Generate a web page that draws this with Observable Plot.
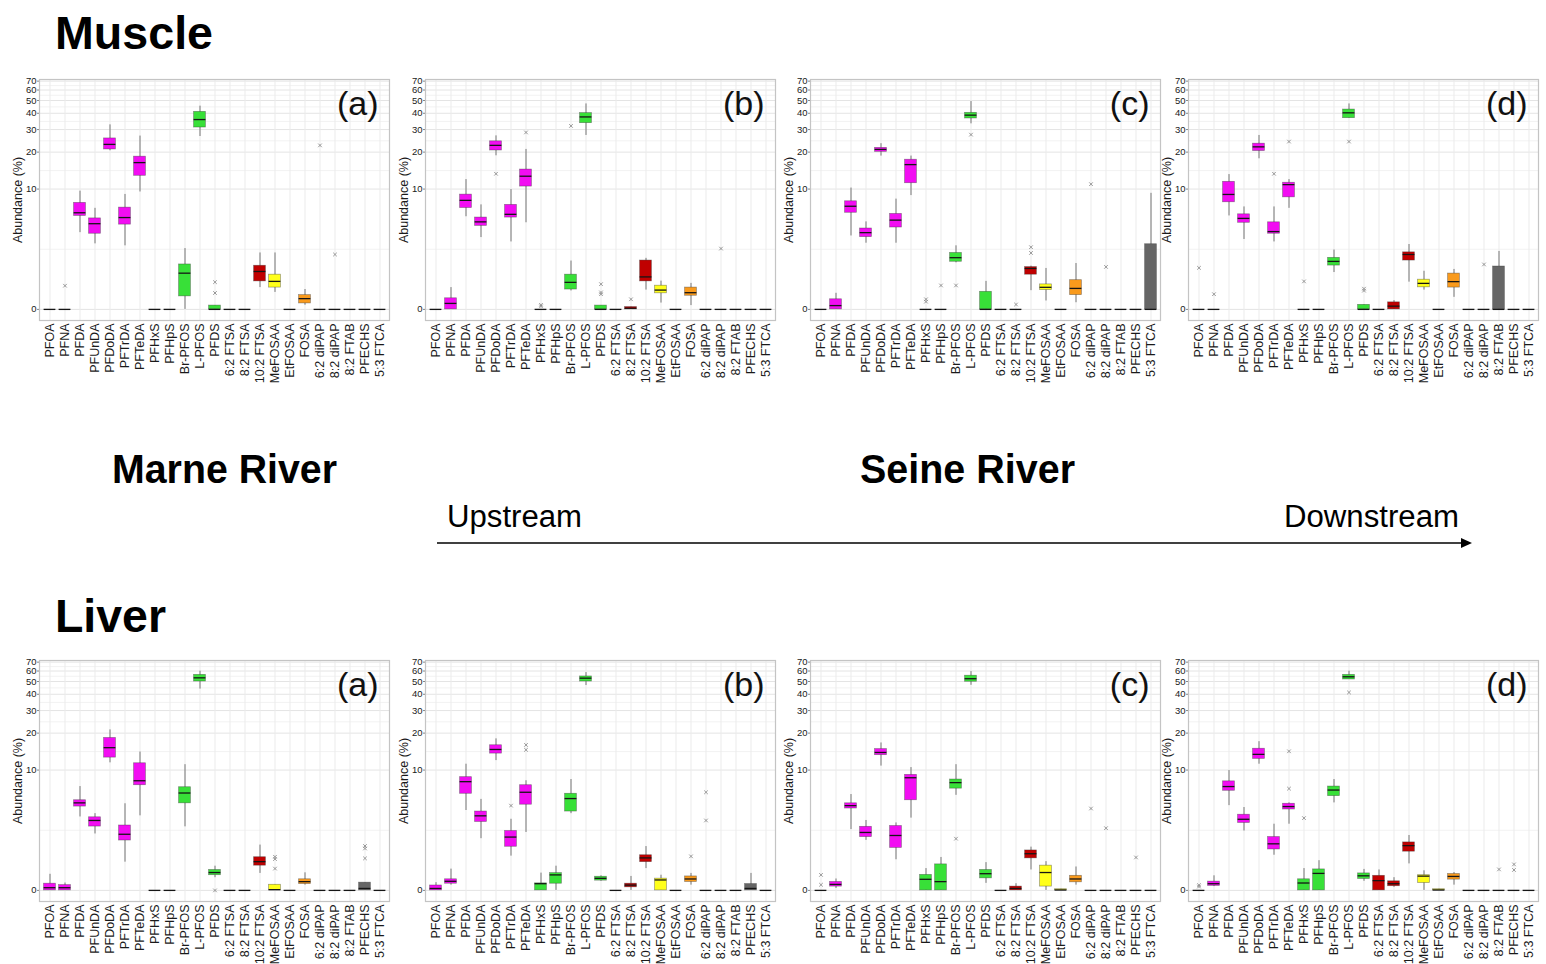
<!DOCTYPE html>
<html>
<head>
<meta charset="utf-8">
<script src="https://cdn.jsdelivr.net/npm/d3@7"></script>
<script src="https://cdn.jsdelivr.net/npm/@observablehq/plot@0.6"></script>
<style>
  html, body { margin: 0; padding: 0; background: #fff; }
  body { width: 1546px; height: 964px; overflow: hidden; position: relative; font-family: "Liberation Sans", Arial, sans-serif; }
  .panel { position: absolute; }
  #overlay { position: absolute; left: 0; top: 0; }
</style>
</head>
<body>
<svg id="overlay" width="1546" height="964"></svg>
<div id="panels"></div>
<script>
// ---------- categories & styling data ----------
const compounds = ["PFOA","PFNA","PFDA","PFUnDA","PFDoDA","PFTrDA","PFTeDA","PFHxS","PFHpS","Br-PFOS","L-PFOS","PFDS","6:2 FTSA","8:2 FTSA","10:2 FTSA","MeFOSAA","EtFOSAA","FOSA","6:2 diPAP","8:2 diPAP","8:2 FTAB","PFECHS","5:3 FTCA"];
const compoundColors = ["#F20DF2","#F20DF2","#F20DF2","#F20DF2","#F20DF2","#F20DF2","#F20DF2","#38E038","#38E038","#38E038","#38E038","#38E038","#C00000","#C00000","#C00000","#FFFF1A","#FFFF1A","#F99A1C","#666666","#666666","#666666","#666666","#666666"];
const yTicks = [0, 10, 20, 30, 40, 50, 60, 70];
const panelTags = ["(a)", "(b)", "(c)", "(d)"];

// ---------- box statistics per compound: [whisker low, Q1, median, Q3, whisker high] ----------
const muscleA = [[0,0,0,0,0],[0,0,0,0,0],[4.0,5.8,6.2,7.6,9.6],[3.05,3.9,4.9,5.5,6.8],[20.5,21.0,23.0,25.6,32.6],[2.9,4.8,5.6,6.9,9.0],[9.45,12.9,16.5,18.4,26.7],[0,0,0,0,0],[0,0,0,0,0],[0,0.37,1.27,1.71,2.7],[26.5,31.1,35.8,41.0,45.3],[0,0,0,0.1,0.1],[0,0,0,0,0],[0,0,0,0,0],[0.67,0.91,1.35,1.64,2.4],[0.5,0.67,0.91,1.2,2.4],[0,0,0,0,0],[0.11,0.16,0.3,0.41,0.6],[0,0,0,0,0],[0,0,0,0,0],[0,0,0,0,0],[0,0,0,0,0],[0,0,0,0,0]];
const muscleB = [[0,0,0,0,0],[0,0,0.16,0.31,0.67],[5.7,6.85,8.0,8.97,12.0],[3.56,4.67,5.1,5.6,7.3],[18.7,20.6,22.6,24.3,26.8],[3.2,5.6,6.0,7.3,9.9],[5.0,10.5,12.8,14.5,21.0],[0,0,0,0,0],[0,0,0,0,0],[0.55,0.6,0.87,1.2,1.9],[27.0,33.6,37.5,40.1,47.1],[0,0,0,0.1,0.1],[0,0,0,0,0],[0,0,0.03,0.06,0.06],[0.58,0.91,1.1,1.93,2.06],[0.17,0.47,0.58,0.74,0.92],[0,0,0,0,0],[0.1,0.39,0.49,0.67,0.83],[0,0,0,0,0],[0,0,0,0,0],[0,0,0,0,0],[0,0,0,0,0],[0,0,0,0,0]];
const muscleC = [[0,0,0,0,0],[0,0,0.1,0.28,0.47],[3.7,6.2,7.1,7.85,10.2],[3.1,3.6,4.0,4.4,5.1],[18.6,20.1,21.0,21.6,23.3],[3.1,4.5,5.3,6.05,8.2],[8.8,11.2,15.9,17.4,18.6],[0,0,0,0,0],[0,0,0,0,0],[1.8,1.86,2.1,2.4,2.9],[33.2,36.5,38.7,40.3,49.1],[0,0,0,0.52,0.91],[0,0,0,0,0],[0,0,0,0,0],[0.56,1.2,1.5,1.57,1.62],[0.23,0.58,0.68,0.79,1.5],[0,0,0,0,0],[0.18,0.41,0.64,0.96,1.76],[0,0,0,0,0],[0,0,0,0,0],[0,0,0,0,0],[0,0,0,0,0],[0,0,0,3.02,9.2]];
const muscleD = [[0,0,0,0,0],[0,0,0,0,0],[5.8,7.7,9.0,11.5,13.2],[3.4,5.0,5.5,6.0,7.0],[17.7,20.4,22.0,23.3,27.0],[3.2,3.9,4.1,5.05,7.0],[6.8,8.5,10.9,11.3,12.0],[0,0,0,0,0],[0,0,0,0,0],[1.3,1.65,1.88,2.09,2.6],[36.7,36.7,40.3,42.7,47.1],[0,0,0,0.12,0.12],[0,0,0,0,0],[0,0,0.085,0.19,0.24],[0.88,1.93,2.3,2.44,3.0],[0.58,0.68,0.83,0.98,1.36],[0,0,0,0,0],[0.34,0.67,0.9,1.25,1.45],[0,0,0,0,0],[0,0,0,0,0],[0,0,0,1.6,2.5],[0,0,0,0,0],[0,0,0,0,0]];
const liverA = [[0,0,0.07,0.18,0.47],[0,0,0.07,0.14,0.2],[3.7,4.7,5.1,5.4,7.2],[2.4,2.92,3.4,3.67,4.0],[11.5,12.7,15.3,18.3,21.2],[0.92,1.99,2.38,3.0,5.0],[3.8,7.4,8.1,11.4,14.1],[0,0,0,0,0],[0,0,0,0,0],[2.9,5.05,6.3,7.1,11.1],[43.8,50.0,53.3,56.1,59.8],[0.36,0.44,0.53,0.62,0.76],[0,0,0,0,0],[0,0,0,0,0],[0.5,0.78,0.94,1.13,1.73],[0,0,0.02,0.15,0.15],[0,0,0,0,0],[0.14,0.17,0.24,0.31,0.52],[0,0,0,0,0],[0,0,0,0,0],[0,0,0,0,0],[0,0,0.05,0.21,0.21],[0,0,0,0,0]];
const liverB = [[0,0,0.05,0.13,0.21],[0.14,0.18,0.25,0.31,0.65],[4.3,6.2,7.95,8.7,11.2],[2.1,3.28,3.8,4.2,5.5],[12.0,13.7,14.8,16.0,18.0],[1.18,1.64,2.2,2.6,3.5],[2.5,4.9,6.4,7.4,8.1],[0,0,0.18,0.19,0.51],[0,0.18,0.45,0.51,0.76],[4.0,4.2,5.6,6.2,8.3],[46.6,50.0,53.0,54.6,58.4],[0.25,0.27,0.34,0.39,0.42],[0,0,0,0,0],[0,0.08,0.14,0.18,0.4],[0.67,0.92,1.1,1.22,1.65],[0,0,0.29,0.33,0.44],[0,0,0,0,0],[0.14,0.23,0.32,0.4,0.5],[0,0,0,0,0],[0,0,0,0,0],[0,0,0,0,0],[0,0,0.05,0.17,0.5],[0,0,0,0,0]];
const liverC = [[0,0,0,0,0],[0.05,0.1,0.16,0.23,0.32],[2.7,4.5,4.8,5.05,6.1],[2.0,2.2,2.5,2.9,3.4],[10.8,13.3,14.0,14.9,16.7],[1.02,1.58,2.3,2.96,3.2],[3.6,5.4,8.6,9.1,10.5],[0,0,0.31,0.45,0.67],[0,0,0.24,0.83,1.12],[6.0,6.9,7.8,8.3,11.1],[46.8,49.8,52.5,55.3,59.4],[0.19,0.34,0.49,0.62,0.9],[0,0,0,0,0],[0,0,0.05,0.1,0.18],[0.62,1.08,1.29,1.45,1.62],[0,0.1,0.53,0.78,0.94],[0,0,0.01,0.03,0.03],[0.14,0.22,0.32,0.42,0.73],[0,0,0,0,0],[0,0,0,0,0],[0,0,0,0,0],[0,0,0,0,0],[0,0,0,0,0]];
const liverD = [[0,0,0,0,0],[0.1,0.12,0.18,0.24,0.42],[4.8,6.6,7.2,8.0,9.9],[2.6,3.2,3.5,3.9,4.6],[11.2,12.4,13.5,15.0,17.1],[1.22,1.5,1.8,2.2,3.1],[3.1,4.4,4.7,5.0,5.1],[0,0,0.2,0.31,0.67],[0,0,0.5,0.64,0.98],[5.1,5.9,6.7,7.2,8.3],[51.8,51.8,54.3,56.1,59.8],[0.25,0.32,0.42,0.5,0.64],[0,0,0.27,0.42,0.62],[0.08,0.11,0.18,0.25,0.36],[0.85,1.39,1.7,1.88,2.3],[0,0.2,0.41,0.44,0.59],[0,0,0.01,0.03,0.03],[0.14,0.3,0.4,0.48,0.53],[0,0,0,0,0],[0,0,0,0,0],[0,0,0,0,0],[0,0,0,0,0],[0,0,0,0,0]];

// ---------- outlying points: [compound, abundance %] ----------
const muscleAOut = [["PFNA",0.74],["PFDS",0.88],["PFDS",0.48],["6:2 diPAP",22.6],["8:2 diPAP",2.3]];
const muscleBOut = [["PFDoDA",13.4],["PFTeDA",28.5],["PFHxS",0.12],["PFHxS",0.08],["Br-PFOS",32],["PFDS",0.5],["PFDS",0.44],["PFDS",0.8],["8:2 FTSA",0.28],["8:2 diPAP",2.7]];
const muscleCOut = [["PFHxS",0.28],["PFHxS",0.21],["PFHpS",0.75],["Br-PFOS",0.75],["L-PFOS",27.4],["8:2 FTSA",0.13],["10:2 FTSA",2.8],["10:2 FTSA",2.4],["6:2 diPAP",11.0],["8:2 diPAP",1.58]];
const muscleDOut = [["PFOA",1.53],["PFNA",0.44],["PFTrDA",13.4],["PFTeDA",24.2],["PFHxS",0.91],["L-PFOS",24.2],["PFDS",0.63],["PFDS",0.56],["8:2 diPAP",1.71]];
const liverAOut = [["PFDS",0],["MeFOSAA",1.05],["MeFOSAA",0.67],["MeFOSAA",1.15],["PFECHS",1.68],["PFECHS",1.55],["PFECHS",1.08]];
const liverBOut = [["PFTrDA",4.8],["PFTeDA",16.1],["PFTeDA",14.7],["FOSA",1.17],["6:2 diPAP",6.4],["6:2 diPAP",3.4]];
const liverCOut = [["PFOA",0.45],["PFOA",0.15],["Br-PFOS",2.1],["6:2 diPAP",4.5],["8:2 diPAP",2.8],["PFECHS",1.12]];
const liverDOut = [["PFOA",0.14],["PFOA",0.1],["PFTeDA",6.9],["PFTeDA",14.3],["PFHxS",3.6],["L-PFOS",41.3],["8:2 FTAB",0.64],["PFECHS",0.83],["PFECHS",0.62]];

// ---------- layout ----------
const SYM_C = 1.5;
const panelLefts = [5, 391, 776, 1154];
const rowTops = [75, 656];
const PLOT_W = 350, PLOT_H = 241, M_LEFT = 34, M_RIGHT = 2, M_TOP = 4, M_BOTTOM = 70;

// minor grid lines: midpoints between major ticks in transformed (symlog) space
const tf = v => Math.sign(v) * Math.log1p(Math.abs(v) / SYM_C);
const itf = t => Math.sign(t) * SYM_C * Math.expm1(Math.abs(t));
const yMinor = yTicks.slice(1).map((v, i) => itf((tf(v) + tf(yTicks[i])) / 2));

function makePanel(stats, outliers, tag) {
  const rows = compounds.map((c, i) => ({
    c, lo: stats[i][0], q1: stats[i][1], med: stats[i][2], q3: stats[i][3], hi: stats[i][4], col: compoundColors[i]
  }));
  const outs = outliers.map(([c, v]) => ({c, v}));
  return Plot.plot({
    width: M_LEFT + PLOT_W + M_RIGHT,
    height: M_TOP + PLOT_H + M_BOTTOM,
    marginLeft: M_LEFT, marginRight: M_RIGHT, marginTop: M_TOP, marginBottom: M_BOTTOM,
    style: {background: "transparent", fontFamily: "'Liberation Sans', Arial, sans-serif", color: "#1a1a1a", overflow: "visible"},
    x: {type: "band", domain: compounds, paddingInner: 0, paddingOuter: 0.1, axis: null, label: null},
    y: {type: "symlog", constant: SYM_C, domain: [-0.31, 72], axis: null, label: null},
    color: {type: "identity"},
    marks: [
      Plot.gridY(yMinor, {stroke: "#f2f2f2", strokeOpacity: 1}),
      Plot.gridY(yTicks, {stroke: "#e4e4e4", strokeOpacity: 1}),
      Plot.gridX(compounds, {stroke: "#ebebeb", strokeOpacity: 1}),
      Plot.frame({stroke: "#c4c4c4", strokeWidth: 1.2}),
      Plot.ruleX(rows, {x: "c", y1: "lo", y2: "hi", stroke: "#555", strokeWidth: 0.8}),
      Plot.barY(rows, {x: "c", y1: "q1", y2: "q3", fill: "col", stroke: "#333", strokeOpacity: 0.5, strokeWidth: 0.7, insetLeft: 1.6, insetRight: 1.6}),
      Plot.tickY(rows, {x: "c", y: "med", stroke: "#151515", strokeWidth: 1.3, insetLeft: 1.6, insetRight: 1.6}),
      Plot.dot(outs, {x: "c", y: "v", symbol: "times", r: 1.8, stroke: "#808080", strokeWidth: 0.8}),
      Plot.axisY(yTicks, {tickSize: 2, tickPadding: 1, fontSize: 9.5, stroke: "#888"}),
      Plot.axisX({tickRotate: -90, tickSize: 0, tickPadding: 3, fontSize: 12.5, label: null}),
      Plot.text(["Abundance (%)"], {frameAnchor: "left", textAnchor: "middle", rotate: -90, dx: -22, fontSize: 12.5, fill: "#1a1a1a"}),
      Plot.text([tag], {frameAnchor: "top-right", dx: -11, dy: 25, lineAnchor: "middle", fontSize: 34, fill: "#111"})
    ]
  });
}

const panelsEl = document.getElementById("panels");
const rowsData = [
  [[muscleA, muscleAOut], [muscleB, muscleBOut], [muscleC, muscleCOut], [muscleD, muscleDOut]],
  [[liverA, liverAOut], [liverB, liverBOut], [liverC, liverCOut], [liverD, liverDOut]]
];
rowsData.forEach((row, r) => {
  row.forEach(([stats, outs], i) => {
    const div = document.createElement("div");
    div.className = "panel";
    div.style.left = panelLefts[i] + "px";
    div.style.top = rowTops[r] + "px";
    div.appendChild(makePanel(stats, outs, panelTags[i]));
    panelsEl.appendChild(div);
  });
});

// ---------- headings and arrow ----------
const ns = "http://www.w3.org/2000/svg";
const ov = document.getElementById("overlay");
function addText(str, x, y, size, weight, len) {
  const t = document.createElementNS(ns, "text");
  t.setAttribute("x", x); t.setAttribute("y", y);
  t.setAttribute("font-size", size); t.setAttribute("font-weight", weight);
  t.setAttribute("font-family", "'Liberation Sans', Arial, sans-serif");
  t.setAttribute("fill", "#000");
  if (len) { t.setAttribute("textLength", len); t.setAttribute("lengthAdjust", "spacingAndGlyphs"); }
  t.textContent = str;
  ov.appendChild(t);
}
addText("Muscle", 55, 49, 46, "bold", 158);
addText("Liver", 55, 632, 46, "bold", 111);
addText("Marne River", 112, 483, 40, "bold", 225);
addText("Seine River", 860, 483, 40, "bold", 215);
addText("Upstream", 447, 527, 31, "normal", 135);
addText("Downstream", 1284, 527, 31, "normal", 175);
const line = document.createElementNS(ns, "line");
line.setAttribute("x1", 437); line.setAttribute("y1", 543);
line.setAttribute("x2", 1464); line.setAttribute("y2", 543);
line.setAttribute("stroke", "#000"); line.setAttribute("stroke-width", 1.5);
ov.appendChild(line);
const head = document.createElementNS(ns, "polygon");
head.setAttribute("points", "1461,538 1472,543 1461,548");
head.setAttribute("fill", "#000");
ov.appendChild(head);
</script>
</body>
</html>
